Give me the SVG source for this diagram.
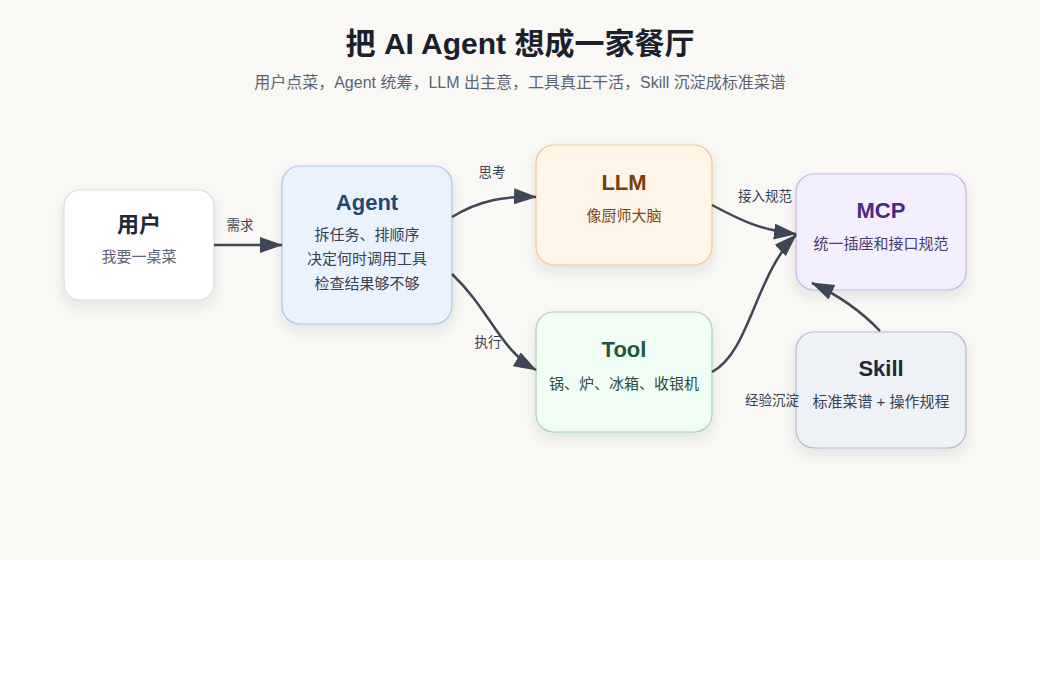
<svg xmlns="http://www.w3.org/2000/svg" width="1040" height="700" viewBox="0 0 1040 700">
<style>
.t{font-family:"Liberation Sans","Noto Sans CJK SC",sans-serif;text-anchor:middle}
.h{font-size:22px;font-weight:bold}
.s{font-size:15px}
.lbl{font-family:"Liberation Sans","Noto Sans CJK SC",sans-serif;font-size:13.5px;fill:#374151;text-anchor:middle}
.c{fill:none;stroke:#3f4756;stroke-width:2.5}
</style>
<defs>
<filter id="sh" x="-20%" y="-20%" width="140%" height="150%">
<feDropShadow dx="0" dy="6" stdDeviation="6" flood-color="#1f2937" flood-opacity="0.10"/>
</filter>
<marker id="ar" markerUnits="userSpaceOnUse" markerWidth="24" markerHeight="18" refX="22" refY="8" orient="auto">
<path d="M0,0 L23,8 L0,16 Z" fill="#3f4756"/>
</marker>
</defs>
<rect x="0" y="0" width="1040" height="560" fill="#faf8f5"/>
<rect x="0" y="560" width="1040" height="140" fill="#ffffff"/>
<text class="t" x="520" y="54" font-size="30" font-weight="bold" fill="#1a202c">把 AI Agent 想成一家餐厅</text>
<text class="t" x="520" y="88" font-size="16" fill="#5b6472">用户点菜，Agent 统筹，LLM 出主意，工具真正干活，Skill 沉淀成标准菜谱</text>
<g id="user">
<rect x="64" y="190" width="150" height="110" rx="16" fill="#ffffff" stroke="#d9dde3" stroke-width="1.2" filter="url(#sh)"/>
<text class="t h" x="139" y="232" fill="#1f2937">用户</text>
<text class="t s" x="139" y="262" fill="#5b6472">我要一桌菜</text>
</g>
<g id="agent">
<rect x="282" y="166" width="170" height="158" rx="18" fill="#eaf2fe" stroke="#a9c8e8" stroke-width="1.2" filter="url(#sh)"/>
<text class="t h" x="367" y="210" fill="#1e4a72">Agent</text>
<text class="t s" x="367" y="240" fill="#374151">拆任务、排顺序</text>
<text class="t s" x="367" y="264" fill="#374151">决定何时调用工具</text>
<text class="t s" x="367" y="289" fill="#374151">检查结果够不够</text>
</g>
<g id="llm">
<rect x="536" y="145" width="176" height="120" rx="18" fill="#fff4e8" stroke="#f0c890" stroke-width="1.2" filter="url(#sh)"/>
<text class="t h" x="624" y="190" fill="#7a3e0e">LLM</text>
<text class="t s" x="624" y="221" fill="#7a4a1e">像厨师大脑</text>
</g>
<g id="tool">
<rect x="536" y="312" width="176" height="120" rx="18" fill="#effdf4" stroke="#a3d4b4" stroke-width="1.2" filter="url(#sh)"/>
<text class="t h" x="624" y="357" fill="#22563a">Tool</text>
<text class="t s" x="624" y="389" fill="#2e4a3a">锅、炉、冰箱、收银机</text>
</g>
<g id="mcp">
<rect x="796" y="174" width="170" height="116" rx="18" fill="#f3effe" stroke="#c8b4ea" stroke-width="1.2" filter="url(#sh)"/>
<text class="t h" x="881" y="218" fill="#4a2a80">MCP</text>
<text class="t s" x="881" y="249" fill="#4a3a70">统一插座和接口规范</text>
</g>
<g id="skill">
<rect x="796" y="332" width="170" height="116" rx="18" fill="#eef1f6" stroke="#b4bccb" stroke-width="1.2" filter="url(#sh)"/>
<text class="t h" x="881" y="376" fill="#1f2937">Skill</text>
<text class="t s" x="881" y="407" fill="#374151">标准菜谱 + 操作规程</text>
</g>
<g id="connectors">
<path class="c" d="M214,245 L282,245" marker-end="url(#ar)"/>
<text class="lbl" x="240" y="230">需求</text>
<path class="c" d="M452,217 C480,200 505,196 536,197" marker-end="url(#ar)"/>
<text class="lbl" x="492" y="177">思考</text>
<path class="c" d="M452,274 C490,310 500,350 536,370" marker-end="url(#ar)"/>
<text class="lbl" x="488" y="347">执行</text>
<path class="c" d="M712,205 C740,220 760,230 796,234" marker-end="url(#ar)"/>
<text class="lbl" x="765" y="201">接入规范</text>
<path class="c" d="M712,372 C750,352 755,275 796,235" marker-end="url(#ar)"/>
<path class="c" d="M880,331 C862,312 840,296 812,283" marker-end="url(#ar)"/>
<text class="lbl" x="772" y="405">经验沉淀</text>
</g>
</svg>
